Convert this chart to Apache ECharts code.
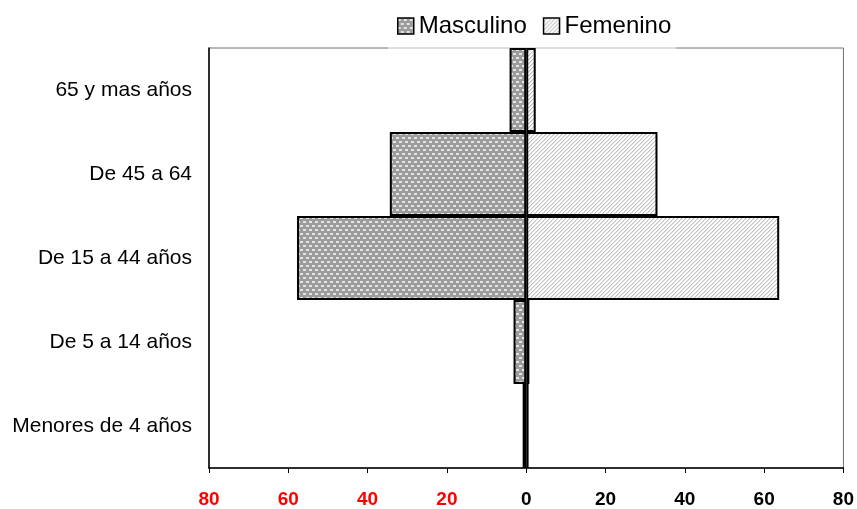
<!DOCTYPE html>
<html>
<head>
<meta charset="utf-8">
<script src="https://cdn.jsdelivr.net/npm/echarts@6/dist/echarts.min.js"></script>
<style>html,body{margin:0;padding:0;background:#fff;}#c{width:857px;height:509px;}</style>
</head>
<body>
<div id="c"></div>
<script>
var categories = ['Menores de 4 años', 'De 5 a 14 años', 'De 15 a 44 años', 'De 45 a 64', '65 y mas años'];
var masculino = [0.9, 3.2, 57.8, 34.4, 4.2];
var femenino = [0.6, 0.8, 63.8, 33.1, 2.4];
var xTicks = { min: -80, max: 80, interval: 20 };
var seriesNames = ['Masculino', 'Femenino'];

function makeMascPattern() {
  var c = document.createElement('canvas');
  c.width = 6; c.height = 8;
  var g = c.getContext('2d');
  g.fillStyle = '#9c9c9c'; g.fillRect(0, 0, 6, 8);
  g.fillStyle = '#e4e4e4';
  g.fillRect(0, 1, 3, 2);
  g.fillRect(3, 5, 3, 2);
  return c;
}
function makeFemPattern() {
  var c = document.createElement('canvas');
  c.width = 4; c.height = 4;
  var g = c.getContext('2d');
  g.fillStyle = '#ffffff'; g.fillRect(0, 0, 4, 4);
  g.fillStyle = '#c4c4c4';
  g.fillRect(3, 0, 1, 1); g.fillRect(2, 1, 1, 1); g.fillRect(1, 2, 1, 1); g.fillRect(0, 3, 1, 1);
  g.fillStyle = '#e2e2e2';
  g.fillRect(0, 0, 1, 1); g.fillRect(3, 1, 1, 1); g.fillRect(2, 2, 1, 1); g.fillRect(1, 3, 1, 1);
  return c;
}

var chart = echarts.init(document.getElementById('c'), null, { renderer: 'canvas' });
var font = 'Liberation Sans, Arial, sans-serif';
chart.setOption({
  animation: false,
  backgroundColor: '#ffffff',
  grid: { left: 209, right: 11, top: 48, bottom: 40, show: true, borderColor: '#707070', borderWidth: 1, containLabel: false, z: 0 },
  legend: {
    data: seriesNames,
    left: 388, top: 0, z: 1,
    padding: [14, 5, 18, 9],
    itemWidth: 16, itemHeight: 16, itemGap: 16,
    backgroundColor: 'rgba(255,255,255,0.55)',
    icon: 'rect',
    textStyle: { fontFamily: font, fontSize: 24, color: '#000' },
    itemStyle: { borderColor: '#000', borderWidth: 1.5 }
  },
  xAxis: {
    type: 'value', min: xTicks.min, max: xTicks.max, interval: xTicks.interval,
    splitLine: { show: false },
    axisLine: { show: true, lineStyle: { color: '#000', width: 1.5 } },
    axisTick: { show: true, length: 5, lineStyle: { color: '#000', width: 1 } },
    axisLabel: {
      margin: 22, fontFamily: font, fontSize: 19, fontWeight: 'bold',
      formatter: function (v) { return Math.abs(v); },
      color: function (v) { return Number(v) < 0 ? '#ff0000' : '#000000'; }
    },
    z: 10
  },
  yAxis: {
    type: 'category', data: categories,
    axisLine: { show: true, onZero: false, lineStyle: { color: '#000', width: 1.5 } },
    axisTick: { show: false },
    axisLabel: { margin: 17, fontFamily: font, fontSize: 21, color: '#000' },
    z: 10
  },
  series: [
    {
      name: seriesNames[0], type: 'bar', barGap: '-100%', barCategoryGap: '0%', z: 3,
      data: masculino.map(function (v) { return -v; }),
      itemStyle: { color: { image: makeMascPattern(), repeat: 'repeat' }, borderColor: '#000', borderWidth: 2 }
    },
    {
      name: seriesNames[1], type: 'bar', barGap: '-100%', barCategoryGap: '0%', z: 3,
      data: femenino,
      itemStyle: { color: { image: makeFemPattern(), repeat: 'repeat' }, borderColor: '#000', borderWidth: 2 }
    }
  ]
});
</script>
</body>
</html>
